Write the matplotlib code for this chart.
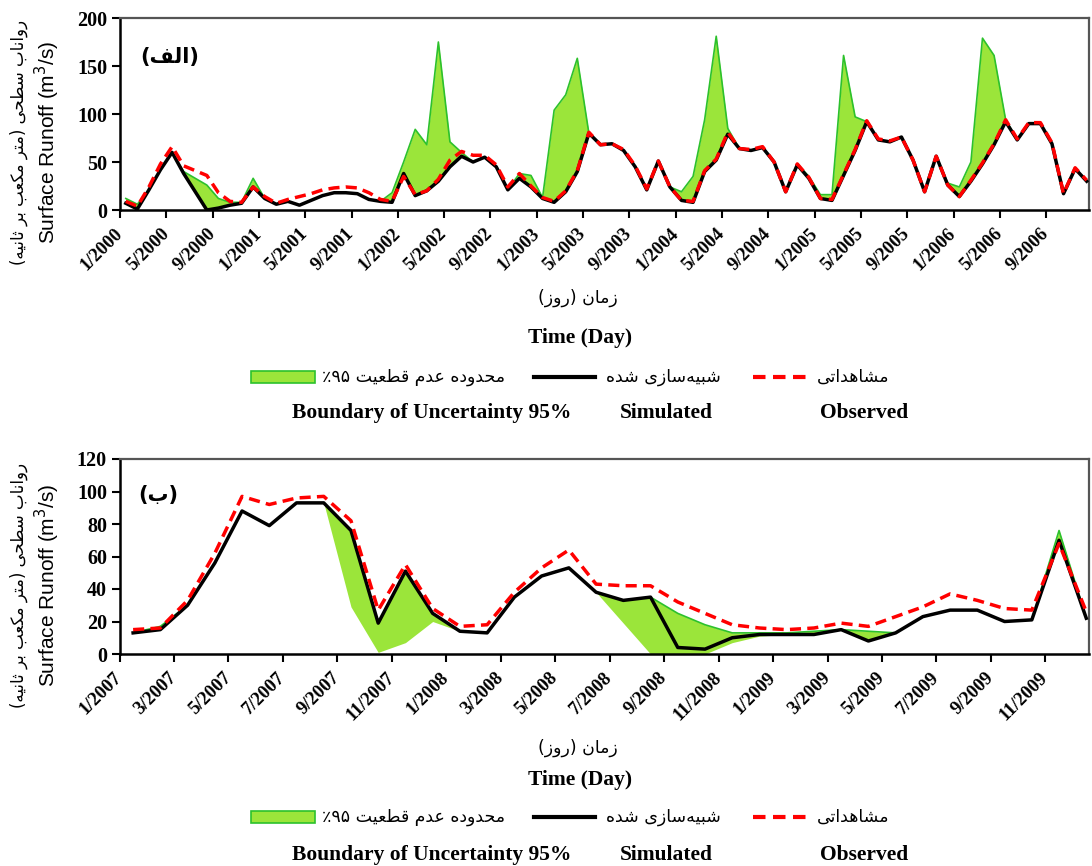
import re
import numpy as np
import matplotlib
matplotlib.use('Agg')
import matplotlib.pyplot as plt
from matplotlib.lines import Line2D
from matplotlib.patches import Rectangle

# ---- calibration period, monthly, 1/2000 - 12/2006 (m3/s) ----
cal_obs = [9, 4, 24, 48, 66, 46, 41, 36, 18, 9, 8, 24,
           14, 7, 11, 14, 17, 21, 23, 24, 23, 18, 11, 9,
           35, 16, 20, 32, 52, 61, 57, 57, 47, 24, 38, 25,
           13, 9, 20, 41, 81, 68, 69, 63, 46, 22, 51, 24,
           10, 9, 41, 53, 81, 64, 63, 66, 50, 19, 48, 34,
           12, 11, 37, 63, 93, 74, 72, 76, 52, 19, 56, 26,
           14, 31, 49, 69, 94, 74, 91, 91, 70, 17, 44, 31]
cal_sim = [7, 1, 21, 42, 60, 38, 19, 0, 2, 5, 7, 24,
           12, 6, 9, 5, 10, 15, 18, 18, 17, 11, 9, 8,
           38, 15, 20, 30, 45, 56, 50, 55, 45, 21, 33, 24,
           12, 8, 19, 40, 80, 68, 69, 62, 45, 21, 51, 24,
           10, 8, 40, 52, 79, 64, 62, 65, 50, 19, 47, 33,
           12, 10, 36, 62, 92, 73, 71, 76, 52, 19, 56, 26,
           14, 30, 48, 68, 92, 73, 90, 90, 69, 17, 43, 30]
cal_upper = [12, 6, 21, 42, 60, 40, 33, 26, 12, 8, 8, 33,
             12, 6, 9, 5, 10, 15, 18, 18, 17, 11, 9, 18,
             50, 84, 68, 175, 71, 60, 50, 55, 45, 21, 38, 36,
             13, 104, 120, 158, 80, 68, 69, 62, 45, 21, 51, 24,
             19, 35, 94, 181, 85, 64, 62, 65, 50, 19, 48, 35,
             16, 16, 161, 97, 92, 73, 71, 76, 52, 19, 56, 28,
             24, 50, 179, 161, 94, 73, 90, 90, 69, 17, 43, 30]
cal_ticks = ['1/2000', '5/2000', '9/2000', '1/2001', '5/2001', '9/2001',
             '1/2002', '5/2002', '9/2002', '1/2003', '5/2003', '9/2003',
             '1/2004', '5/2004', '9/2004', '1/2005', '5/2005', '9/2005',
             '1/2006', '5/2006', '9/2006']

# ---- validation period, monthly, 1/2007 - 12/2009 ----
val_obs = [15, 16, 33, 62, 97, 92, 96, 97, 82, 27, 55, 28,
           17, 18, 38, 53, 64, 43, 42, 42, 32, 25, 18, 16,
           15, 16, 19, 17, 23, 29, 37, 33, 28, 27, 68, 26]
val_sim = [13, 15, 30, 56, 88, 79, 93, 93, 76, 19, 51, 25,
           14, 13, 35, 48, 53, 38, 33, 35, 4, 3, 10, 12,
           12, 12, 15, 8, 13, 23, 27, 27, 20, 21, 70, 22]
val_lower = [13, 15, 30, 56, 88, 79, 93, 93, 29, 1, 7, 20,
             14, 13, 35, 48, 53, 38, 19, 0, 0, 0, 7, 11,
             12, 12, 15, 8, 13, 23, 27, 27, 20, 21, 70, 22]
val_upper = [13, 17, 30, 56, 88, 79, 93, 93, 76, 19, 51, 25,
             14, 13, 35, 48, 53, 38, 33, 35, 25, 18, 13, 13,
             13, 14, 15, 14, 13, 23, 27, 27, 20, 21, 76, 22]
val_ticks = ['1/2007', '3/2007', '5/2007', '7/2007', '9/2007', '11/2007',
             '1/2008', '3/2008', '5/2008', '7/2008', '9/2008', '11/2008',
             '1/2009', '3/2009', '5/2009', '7/2009', '9/2009', '11/2009']

FILL = '#9be53a'
EDGE = '#2cc12c'
SERIF = 'Liberation Serif'
FA = 'DejaVu Sans'
FA_SIZE = 12.5

# contextual forms: isolated, final, initial, medial
FORMS = {
    'ا': ('\uFE8D', '\uFE8E', None, None),
    'ب': ('\uFE8F', '\uFE90', '\uFE91', '\uFE92'),
    'ت': ('\uFE95', '\uFE96', '\uFE97', '\uFE98'),
    'ث': ('\uFE99', '\uFE9A', '\uFE9B', '\uFE9C'),
    'ح': ('\uFEA1', '\uFEA2', '\uFEA3', '\uFEA4'),
    'د': ('\uFEA9', '\uFEAA', None, None),
    'ر': ('\uFEAD', '\uFEAE', None, None),
    'ز': ('\uFEAF', '\uFEB0', None, None),
    'س': ('\uFEB1', '\uFEB2', '\uFEB3', '\uFEB4'),
    'ش': ('\uFEB5', '\uFEB6', '\uFEB7', '\uFEB8'),
    'ط': ('\uFEC1', '\uFEC2', '\uFEC3', '\uFEC4'),
    'ع': ('\uFEC9', '\uFECA', '\uFECB', '\uFECC'),
    'ف': ('\uFED1', '\uFED2', '\uFED3', '\uFED4'),
    'ق': ('\uFED5', '\uFED6', '\uFED7', '\uFED8'),
    'ل': ('\uFEDD', '\uFEDE', '\uFEDF', '\uFEE0'),
    'م': ('\uFEE1', '\uFEE2', '\uFEE3', '\uFEE4'),
    'ن': ('\uFEE5', '\uFEE6', '\uFEE7', '\uFEE8'),
    'ه': ('\uFEE9', '\uFEEA', '\uFEEB', '\uFEEC'),
    'و': ('\uFEED', '\uFEEE', None, None),
    'ک': ('\uFB8E', '\uFB8F', '\uFB90', '\uFB91'),
    'ی': ('\uFBFC', '\uFBFD', '\uFBFE', '\uFBFF'),
}


def fa(s):
    """shape persian text and put it in visual (left-to-right) order"""
    out = []
    for i, c in enumerate(s):
        if c not in FORMS:
            out.append(c)
            continue
        prev = s[i - 1] if i > 0 else ''
        nxt = s[i + 1] if i + 1 < len(s) else ''
        p = prev in FORMS and FORMS[prev][2] is not None
        n = FORMS[c][2] is not None and nxt in FORMS
        iso, fin, ini, med = FORMS[c]
        out.append(med if p and n else fin if p else ini if n else iso)
    vis = ''.join(out).replace('\u200c', '')[::-1]
    vis = re.sub('[0-9\u06f0-\u06f9]+', lambda m: m.group(0)[::-1], vis)
    return vis.translate(str.maketrans('()', ')('))


W, H = 1092, 866
fig = plt.figure(figsize=(W / 100, H / 100), dpi=100)


def fx(x):
    return x / W


def fy(y):
    return 1 - y / H


def panel(rect, obs, sim, lower, upper, ymax, ystep, ticks, tstep, xmax):
    ax = fig.add_axes(rect)
    x = np.arange(len(obs)) + 0.5
    ax.fill_between(x, lower, upper, color=FILL, lw=0, zorder=1)
    ax.plot(x, upper, color=EDGE, lw=1.2, zorder=2)
    ax.plot(x, sim, color='black', lw=2.5, zorder=3)
    ax.plot(x, obs, color='red', lw=2.5, ls=(0, (3.2, 1.8)), zorder=4)
    ax.set_xlim(0, xmax)
    ax.set_ylim(0, ymax)
    ax.set_yticks(np.arange(0, ymax + 1, ystep))
    ax.set_xticks(np.arange(len(ticks)) * tstep)
    ax.set_xticklabels(ticks, rotation=45, ha='right', va='center',
                       rotation_mode='anchor')
    for lab in ax.get_xticklabels():
        lab.set_fontfamily(SERIF)
        lab.set_fontweight('bold')
        lab.set_fontsize(13.5)
    for lab in ax.get_yticklabels():
        lab.set_fontfamily(SERIF)
        lab.set_fontweight('bold')
        lab.set_fontsize(14.5)
    ax.tick_params(axis='x', direction='out', length=6, width=1.5, pad=9)
    ax.tick_params(axis='y', direction='out', length=6, width=1.5, pad=3)
    for side in ['top', 'right']:
        ax.spines[side].set_color('#555555')
        ax.spines[side].set_linewidth(1.6)
    for side in ['left', 'bottom']:
        ax.spines[side].set_color('black')
        ax.spines[side].set_linewidth(1.8)
    return ax


ax1 = panel([fx(120), fy(210), fx(1089) - fx(120), fy(18) - fy(210)],
            cal_obs, cal_sim, cal_sim, cal_upper, 200, 50, cal_ticks, 4, 83.7)
ax2 = panel([fx(119.5), fy(654), fx(1089) - fx(119.5), fy(459) - fy(654)],
            val_obs, val_sim, val_lower, val_upper, 120, 20, val_ticks, 2, 35.6)

fig.text(fx(170), fy(57), fa('(الف)'), family=FA, weight='bold', fontsize=15,
         ha='center', va='center')
fig.text(fx(158), fy(495), fa('(ب)'), family=FA, weight='bold', fontsize=15,
         ha='center', va='center')

ylab_fa = fa('رواناب سطحی (متر مکعب بر ثانیه)')
for yc in [142, 585]:
    fig.text(fx(47), fy(yc), 'Surface Runoff (m$^3$/s)', family='Liberation Sans',
             fontsize=15, rotation=90, ha='center', va='center')
    fig.text(fx(19), fy(yc), ylab_fa, family=FA, fontsize=12,
             rotation=90, ha='center', va='center')


def footer(y_fa, y_time, y_leg, y_en):
    fig.text(fx(578), fy(y_fa), fa('زمان (روز)'), family=FA, fontsize=FA_SIZE,
             ha='center', va='center')
    fig.text(fx(580), fy(y_time), 'Time (Day)', family=SERIF, weight='bold',
             fontsize=15.5, ha='center', va='center')
    fig.add_artist(Rectangle((fx(251), fy(y_leg + 6)), fx(64), 12 / H,
                             transform=fig.transFigure, facecolor=FILL,
                             edgecolor=EDGE, lw=1.2))
    fig.text(fx(322), fy(y_leg), fa('محدوده عدم قطعیت ۹۵٪'), family=FA,
             fontsize=FA_SIZE, ha='left', va='center')
    fig.add_artist(Line2D([fx(534), fx(595)], [fy(y_leg), fy(y_leg)],
                          transform=fig.transFigure, color='black', lw=3))
    fig.text(fx(606), fy(y_leg), fa('شبیه\u200cسازی شده'), family=FA,
             fontsize=FA_SIZE, ha='left', va='center')
    fig.add_artist(Line2D([fx(753), fx(812)], [fy(y_leg), fy(y_leg)],
                          transform=fig.transFigure, color='red', lw=3,
                          ls=(0, (3, 1.8))))
    fig.text(fx(817), fy(y_leg), fa('مشاهداتی'), family=FA, fontsize=FA_SIZE,
             ha='left', va='center')
    for xc, txt in [(432, 'Boundary of Uncertainty 95%'), (666, 'Simulated'),
                    (864, 'Observed')]:
        fig.text(fx(xc), fy(y_en), txt, family=SERIF, weight='bold',
                 fontsize=15.5, ha='center', va='center')


footer(298, 338, 377, 413)
footer(748, 780, 817, 855)

fig.savefig('out.png', dpi=100)
